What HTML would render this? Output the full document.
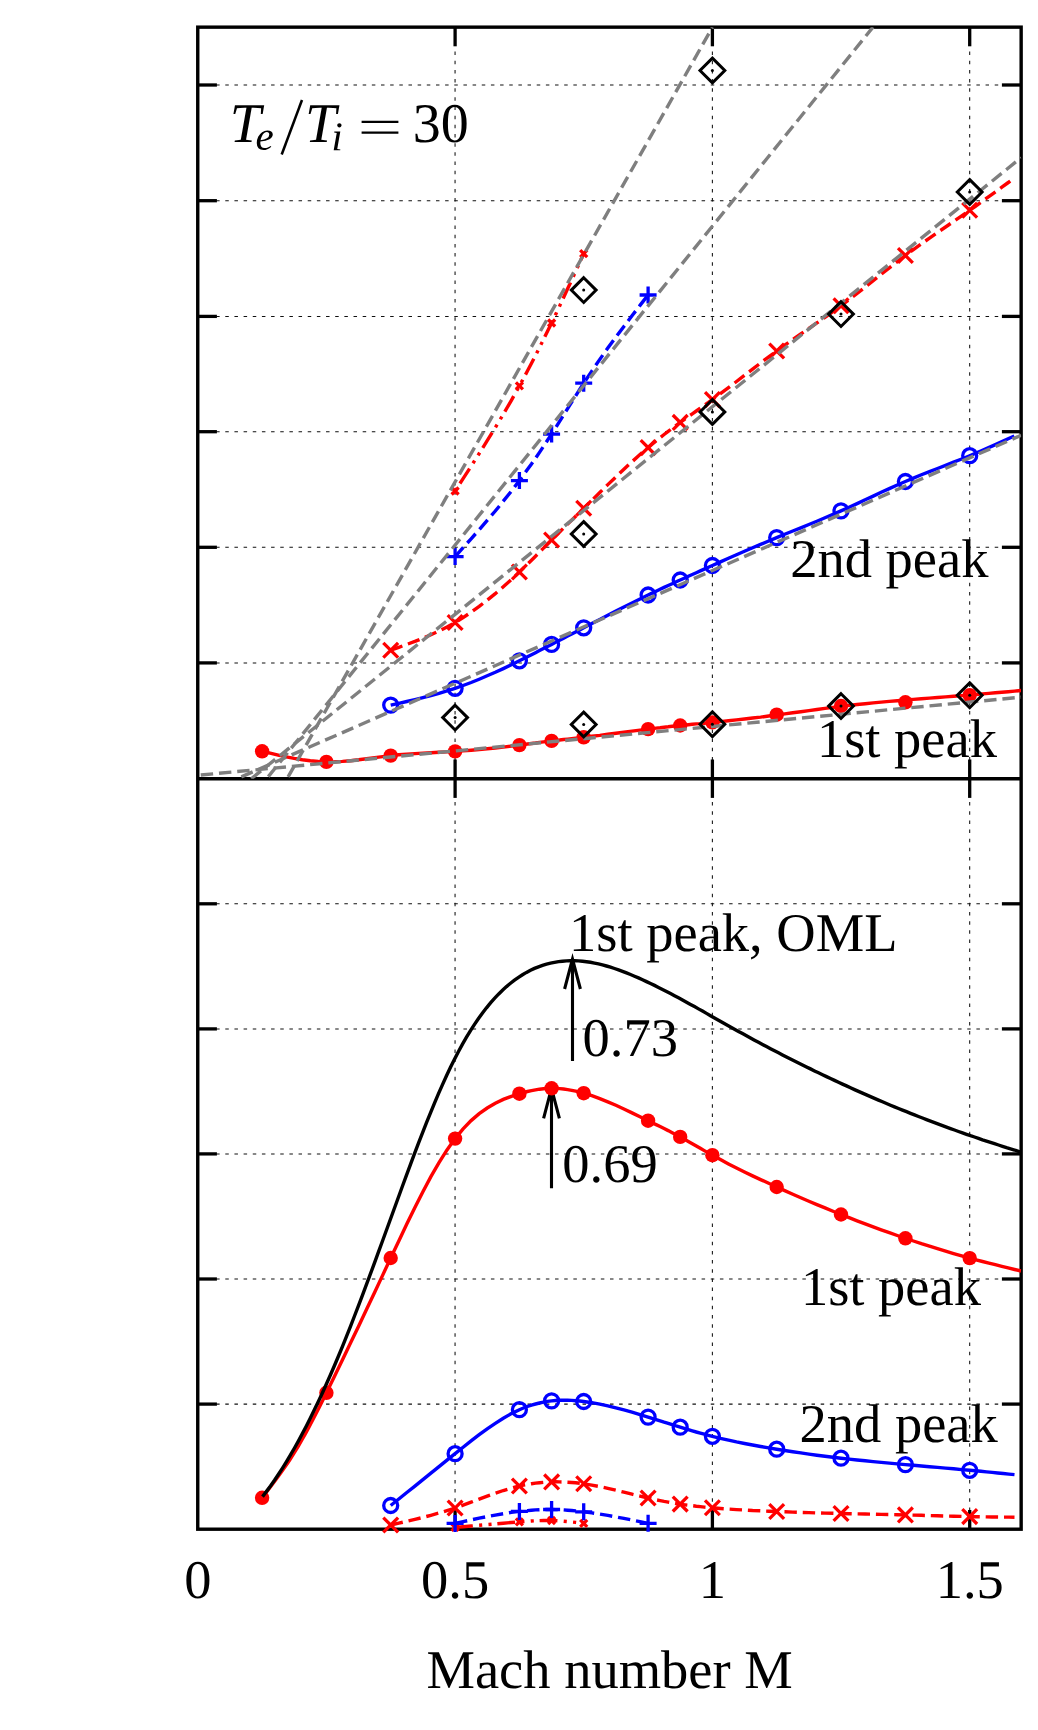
<!DOCTYPE html>
<html><head><meta charset="utf-8"><title>chart</title>
<style>html,body{margin:0;padding:0;background:#fff;}body{width:1038px;height:1730px;overflow:hidden;font-family:"Liberation Serif",serif;}</style>
</head><body>
<svg width="1038" height="1730" viewBox="0 0 1038 1730" style="display:block">
<rect x="0" y="0" width="1038" height="1730" fill="#ffffff"/>
<defs><clipPath id="ct"><rect x="197.75" y="27.15" width="823.4" height="751.5500000000001"/></clipPath><clipPath id="cb"><rect x="197.75" y="778.7" width="823.4" height="754.5"/></clipPath></defs>
<g stroke="#101010" stroke-width="1.05" stroke-dasharray="3.5 5.66" fill="none">
<line x1="197.8" y1="85.00" x2="1021.1" y2="85.00"/>
<line x1="197.8" y1="200.65" x2="1021.1" y2="200.65"/>
<line x1="197.8" y1="316.45" x2="1021.1" y2="316.45"/>
<line x1="197.8" y1="431.70" x2="1021.1" y2="431.70"/>
<line x1="197.8" y1="547.30" x2="1021.1" y2="547.30"/>
<line x1="197.8" y1="662.90" x2="1021.1" y2="662.90"/>
<line x1="197.8" y1="903.80" x2="1021.1" y2="903.80"/>
<line x1="197.8" y1="1028.90" x2="1021.1" y2="1028.90"/>
<line x1="197.8" y1="1153.90" x2="1021.1" y2="1153.90"/>
<line x1="197.8" y1="1279.00" x2="1021.1" y2="1279.00"/>
<line x1="197.8" y1="1404.10" x2="1021.1" y2="1404.10"/>
<line x1="455.06" y1="778.7" x2="455.06" y2="27.1"/>
<line x1="455.06" y1="1529.2" x2="455.06" y2="778.7"/>
<line x1="712.38" y1="778.7" x2="712.38" y2="27.1"/>
<line x1="712.38" y1="1529.2" x2="712.38" y2="778.7"/>
<line x1="969.69" y1="778.7" x2="969.69" y2="27.1"/>
<line x1="969.69" y1="1529.2" x2="969.69" y2="778.7"/>
</g>
<g stroke="#000" stroke-width="3.4" fill="none" stroke-linecap="butt">
<rect x="197.75" y="27.15" width="823.4" height="1502.05"/>
<line x1="197.75" y1="778.7" x2="1021.15" y2="778.7"/>
</g>
<g stroke="#000" stroke-width="3.3" fill="none">
<line x1="197.75" y1="85.0" x2="216.9" y2="85.0"/>
<line x1="1021.15" y1="85.0" x2="1001.9" y2="85.0"/>
<line x1="197.75" y1="200.7" x2="216.9" y2="200.7"/>
<line x1="1021.15" y1="200.7" x2="1001.9" y2="200.7"/>
<line x1="197.75" y1="316.4" x2="216.9" y2="316.4"/>
<line x1="1021.15" y1="316.4" x2="1001.9" y2="316.4"/>
<line x1="197.75" y1="431.7" x2="216.9" y2="431.7"/>
<line x1="1021.15" y1="431.7" x2="1001.9" y2="431.7"/>
<line x1="197.75" y1="547.3" x2="216.9" y2="547.3"/>
<line x1="1021.15" y1="547.3" x2="1001.9" y2="547.3"/>
<line x1="197.75" y1="662.9" x2="216.9" y2="662.9"/>
<line x1="1021.15" y1="662.9" x2="1001.9" y2="662.9"/>
<line x1="197.75" y1="903.8" x2="216.9" y2="903.8"/>
<line x1="1021.15" y1="903.8" x2="1001.9" y2="903.8"/>
<line x1="197.75" y1="1028.9" x2="216.9" y2="1028.9"/>
<line x1="1021.15" y1="1028.9" x2="1001.9" y2="1028.9"/>
<line x1="197.75" y1="1153.9" x2="216.9" y2="1153.9"/>
<line x1="1021.15" y1="1153.9" x2="1001.9" y2="1153.9"/>
<line x1="197.75" y1="1279.0" x2="216.9" y2="1279.0"/>
<line x1="1021.15" y1="1279.0" x2="1001.9" y2="1279.0"/>
<line x1="197.75" y1="1404.1" x2="216.9" y2="1404.1"/>
<line x1="1021.15" y1="1404.1" x2="1001.9" y2="1404.1"/>
<line x1="455.1" y1="27.15" x2="455.1" y2="46.3"/>
<line x1="455.1" y1="759.5" x2="455.1" y2="797.9"/>
<line x1="455.1" y1="1529.2" x2="455.1" y2="1510.0"/>
<line x1="712.4" y1="27.15" x2="712.4" y2="46.3"/>
<line x1="712.4" y1="759.5" x2="712.4" y2="797.9"/>
<line x1="712.4" y1="1529.2" x2="712.4" y2="1510.0"/>
<line x1="969.7" y1="27.15" x2="969.7" y2="46.3"/>
<line x1="969.7" y1="759.5" x2="969.7" y2="797.9"/>
<line x1="969.7" y1="1529.2" x2="969.7" y2="1510.0"/>
</g>
<path d="M572.5,1061.0 L572.5,959.0 M564.6,989.0 L572.5,959.0 L580.4,989.0" stroke="#000" stroke-width="3.1" fill="none" stroke-linejoin="miter" stroke-miterlimit="10"/>
<path d="M551.5,1188.3 L551.5,1088.3 M543.6,1118.3 L551.5,1088.3 L559.4,1118.3" stroke="#000" stroke-width="3.1" fill="none" stroke-linejoin="miter" stroke-miterlimit="10"/>
<g clip-path="url(#ct)" fill="none">
<path d="M455.1,491.0 L463.1,478.6 L471.1,466.2 L479.2,453.5 L487.2,440.7 L495.3,427.6 L503.3,414.2 L511.4,400.3 L519.4,385.9 L523.4,378.5 L527.4,371.0 L531.5,363.3 L535.5,355.5 L539.5,347.5 L543.5,339.5 L547.5,331.3 L551.6,323.0 L555.6,314.6 L559.6,306.1 L563.6,297.5 L567.6,288.8 L571.7,280.1 L575.7,271.3 L579.7,262.5 L583.7,253.7" stroke="#ff0000" stroke-width="3.4" stroke-dasharray="17.8 6.3 3.1 6.3 3.1 5.8" stroke-dashoffset="33.5"/>
<path d="M455.1,556.6 L463.1,547.7 L471.1,538.8 L479.2,529.7 L487.2,520.4 L495.3,511.0 L503.3,501.2 L511.4,491.1 L519.4,480.6 L523.4,475.2 L527.4,469.6 L531.5,464.0 L535.5,458.2 L539.5,452.4 L543.5,446.4 L547.5,440.3 L551.6,434.1 L555.6,427.8 L559.6,421.4 L563.6,415.0 L567.6,408.6 L571.7,402.1 L575.7,395.8 L579.7,389.4 L583.7,383.2 L591.8,371.1 L599.8,359.4 L607.8,348.1 L615.9,337.1 L623.9,326.4 L632.0,315.8 L640.0,305.4 L648.1,295.0" stroke="#0000ff" stroke-width="3.4" stroke-dasharray="12.4 5.9"/>
<path d="M390.7,650.2 L398.8,647.3 L406.8,644.4 L414.9,641.4 L422.9,638.2 L430.9,634.8 L439.0,631.0 L447.0,627.0 L455.1,622.5 L463.1,617.6 L471.1,612.2 L479.2,606.4 L487.2,600.2 L495.3,593.7 L503.3,586.8 L511.4,579.5 L519.4,572.0 L523.4,568.1 L527.4,564.2 L531.5,560.2 L535.5,556.2 L539.5,552.1 L543.5,548.1 L547.5,544.0 L551.6,540.0 L555.6,536.0 L559.6,532.0 L563.6,528.0 L567.6,524.1 L571.7,520.1 L575.7,516.2 L579.7,512.2 L583.7,508.3 L591.8,500.4 L599.8,492.5 L607.8,484.6 L615.9,476.9 L623.9,469.3 L632.0,461.8 L640.0,454.6 L648.1,447.6 L652.1,444.2 L656.1,440.9 L660.1,437.7 L664.1,434.5 L668.2,431.4 L672.2,428.3 L676.2,425.3 L680.2,422.4 L684.2,419.5 L688.3,416.6 L692.3,413.8 L696.3,411.0 L700.3,408.2 L704.3,405.3 L708.4,402.5 L712.4,399.6 L720.4,393.7 L728.5,387.7 L736.5,381.5 L744.5,375.3 L752.6,369.1 L760.6,363.0 L768.7,356.9 L776.7,351.0 L784.7,345.2 L792.8,339.6 L800.8,334.0 L808.9,328.5 L816.9,322.9 L825.0,317.3 L833.0,311.6 L841.0,305.7 L849.1,299.6 L857.1,293.4 L865.2,287.1 L873.2,280.7 L881.2,274.3 L889.3,267.9 L897.3,261.6 L905.4,255.5 L913.4,249.6 L921.4,243.8 L929.5,238.1 L937.5,232.5 L945.6,227.0 L953.6,221.4 L961.7,215.9 L969.7,210.3 L975.1,206.5 L980.5,202.6 L985.9,198.7 L991.3,194.8 L996.8,190.9 L1002.2,186.9 L1007.6,183.0 L1013.0,179.0" stroke="#ff0000" stroke-width="3.4" stroke-dasharray="12.4 5.9"/>
<path d="M390.7,705.1 L398.8,703.3 L406.8,701.5 L414.9,699.6 L422.9,697.6 L430.9,695.5 L439.0,693.3 L447.0,690.9 L455.1,688.3 L463.1,685.5 L471.1,682.5 L479.2,679.2 L487.2,675.8 L495.3,672.3 L503.3,668.6 L511.4,664.7 L519.4,660.8 L523.4,658.8 L527.4,656.8 L531.5,654.7 L535.5,652.7 L539.5,650.6 L543.5,648.5 L547.5,646.5 L551.6,644.4 L555.6,642.3 L559.6,640.3 L563.6,638.2 L567.6,636.1 L571.7,634.0 L575.7,632.0 L579.7,629.9 L583.7,627.8 L591.8,623.6 L599.8,619.4 L607.8,615.3 L615.9,611.1 L623.9,607.0 L632.0,602.9 L640.0,598.9 L648.1,595.0 L652.1,593.1 L656.1,591.2 L660.1,589.3 L664.1,587.4 L668.2,585.5 L672.2,583.7 L676.2,581.8 L680.2,580.0 L684.2,578.2 L688.3,576.3 L692.3,574.5 L696.3,572.7 L700.3,570.9 L704.3,569.1 L708.4,567.3 L712.4,565.5 L720.4,561.9 L728.5,558.3 L736.5,554.8 L744.5,551.3 L752.6,547.8 L760.6,544.4 L768.7,541.0 L776.7,537.6 L784.7,534.3 L792.8,531.0 L800.8,527.8 L808.9,524.5 L816.9,521.2 L825.0,517.8 L833.0,514.4 L841.0,510.9 L849.1,507.3 L857.1,503.6 L865.2,499.8 L873.2,496.1 L881.2,492.3 L889.3,488.6 L897.3,485.0 L905.4,481.5 L913.4,478.1 L921.4,474.8 L929.5,471.6 L937.5,468.5 L945.6,465.4 L953.6,462.2 L961.7,459.0 L969.7,455.7 L975.3,453.4 L980.8,451.0 L986.4,448.5 L992.0,446.1 L997.6,443.6 L1003.1,441.1 L1008.7,438.5 L1014.3,436.0" stroke="#0000ff" stroke-width="3.4"/>
<path d="M262.1,751.3 L270.1,753.2 L278.2,755.1 L286.2,756.8 L294.2,758.4 L302.3,759.7 L310.3,760.8 L318.4,761.5 L326.4,761.9 L334.4,761.8 L342.5,761.4 L350.5,760.7 L358.6,759.8 L366.6,758.7 L374.7,757.6 L382.7,756.6 L390.7,755.6 L398.8,754.8 L406.8,754.1 L414.9,753.6 L422.9,753.1 L430.9,752.7 L439.0,752.3 L447.0,751.9 L455.1,751.4 L463.1,750.9 L471.1,750.2 L479.2,749.5 L487.2,748.8 L495.3,748.0 L503.3,747.1 L511.4,746.1 L519.4,745.1 L523.4,744.6 L527.4,744.0 L531.5,743.5 L535.5,743.0 L539.5,742.4 L543.5,741.9 L547.5,741.4 L551.6,740.9 L555.6,740.4 L559.6,740.0 L563.6,739.5 L567.6,739.1 L571.7,738.6 L575.7,738.2 L579.7,737.8 L583.7,737.3 L591.8,736.3 L599.8,735.4 L607.8,734.3 L615.9,733.3 L623.9,732.2 L632.0,731.1 L640.0,730.1 L648.1,729.1 L652.1,728.6 L656.1,728.1 L660.1,727.7 L664.1,727.2 L668.2,726.8 L672.2,726.3 L676.2,725.9 L680.2,725.5 L684.2,725.1 L688.3,724.7 L692.3,724.3 L696.3,723.9 L700.3,723.6 L704.3,723.2 L708.4,722.8 L712.4,722.4 L720.4,721.6 L728.5,720.8 L736.5,719.9 L744.5,719.0 L752.6,718.0 L760.6,717.1 L768.7,716.0 L776.7,715.0 L784.7,713.9 L792.8,712.8 L800.8,711.7 L808.9,710.6 L816.9,709.5 L825.0,708.4 L833.0,707.4 L841.0,706.4 L849.1,705.4 L857.1,704.5 L865.2,703.7 L873.2,702.9 L881.2,702.1 L889.3,701.4 L897.3,700.7 L905.4,700.0 L913.4,699.4 L921.4,698.7 L929.5,698.1 L937.5,697.5 L945.6,696.9 L953.6,696.3 L961.7,695.6 L969.7,695.0 L976.1,694.5 L982.5,693.9 L988.9,693.4 L995.3,692.8 L1001.8,692.2 L1008.2,691.7 L1014.6,691.1 L1021.0,690.5" stroke="#ff0000" stroke-width="3.4"/>
</g>
<g>
<path d="M451.6,487.5 L458.6,494.5 M451.6,494.5 L458.6,487.5" stroke="#ff0000" stroke-width="3.3" fill="none"/>
<path d="M515.9,382.4 L522.9,389.4 M515.9,389.4 L522.9,382.4" stroke="#ff0000" stroke-width="3.3" fill="none"/>
<path d="M548.1,319.5 L555.1,326.5 M548.1,326.5 L555.1,319.5" stroke="#ff0000" stroke-width="3.3" fill="none"/>
<path d="M580.2,250.2 L587.2,257.2 M580.2,257.2 L587.2,250.2" stroke="#ff0000" stroke-width="3.3" fill="none"/>
<path d="M446.6,556.6 L463.6,556.6 M455.1,548.1 L455.1,565.1" stroke="#0000ff" stroke-width="3.3" fill="none"/>
<path d="M510.9,480.6 L527.9,480.6 M519.4,472.1 L519.4,489.1" stroke="#0000ff" stroke-width="3.3" fill="none"/>
<path d="M543.1,434.1 L560.1,434.1 M551.6,425.6 L551.6,442.6" stroke="#0000ff" stroke-width="3.3" fill="none"/>
<path d="M575.2,383.2 L592.2,383.2 M583.7,374.7 L583.7,391.7" stroke="#0000ff" stroke-width="3.3" fill="none"/>
<path d="M639.6,295.0 L656.6,295.0 M648.1,286.5 L648.1,303.5" stroke="#0000ff" stroke-width="3.3" fill="none"/>
<path d="M383.3,642.8 L398.1,657.6 M383.3,657.6 L398.1,642.8" stroke="#ff0000" stroke-width="3.3" fill="none"/>
<path d="M447.7,615.1 L462.5,629.9 M447.7,629.9 L462.5,615.1" stroke="#ff0000" stroke-width="3.3" fill="none"/>
<path d="M512.0,564.6 L526.8,579.4 M512.0,579.4 L526.8,564.6" stroke="#ff0000" stroke-width="3.3" fill="none"/>
<path d="M544.2,532.6 L559.0,547.4 M544.2,547.4 L559.0,532.6" stroke="#ff0000" stroke-width="3.3" fill="none"/>
<path d="M576.3,500.9 L591.1,515.7 M576.3,515.7 L591.1,500.9" stroke="#ff0000" stroke-width="3.3" fill="none"/>
<path d="M640.7,440.2 L655.5,455.0 M640.7,455.0 L655.5,440.2" stroke="#ff0000" stroke-width="3.3" fill="none"/>
<path d="M672.8,415.0 L687.6,429.8 M672.8,429.8 L687.6,415.0" stroke="#ff0000" stroke-width="3.3" fill="none"/>
<path d="M705.0,392.2 L719.8,407.0 M705.0,407.0 L719.8,392.2" stroke="#ff0000" stroke-width="3.3" fill="none"/>
<path d="M769.3,343.6 L784.1,358.4 M769.3,358.4 L784.1,343.6" stroke="#ff0000" stroke-width="3.3" fill="none"/>
<path d="M833.6,298.3 L848.4,313.1 M833.6,313.1 L848.4,298.3" stroke="#ff0000" stroke-width="3.3" fill="none"/>
<path d="M898.0,248.1 L912.8,262.9 M898.0,262.9 L912.8,248.1" stroke="#ff0000" stroke-width="3.3" fill="none"/>
<path d="M962.3,202.9 L977.1,217.7 M962.3,217.7 L977.1,202.9" stroke="#ff0000" stroke-width="3.3" fill="none"/>
<circle cx="390.7" cy="705.1" r="7.0" fill="none" stroke="#0000ff" stroke-width="3.3"/>
<circle cx="455.1" cy="688.3" r="7.0" fill="none" stroke="#0000ff" stroke-width="3.3"/>
<circle cx="519.4" cy="660.8" r="7.0" fill="none" stroke="#0000ff" stroke-width="3.3"/>
<circle cx="551.6" cy="644.4" r="7.0" fill="none" stroke="#0000ff" stroke-width="3.3"/>
<circle cx="583.7" cy="627.8" r="7.0" fill="none" stroke="#0000ff" stroke-width="3.3"/>
<circle cx="648.1" cy="595.0" r="7.0" fill="none" stroke="#0000ff" stroke-width="3.3"/>
<circle cx="680.2" cy="580.0" r="7.0" fill="none" stroke="#0000ff" stroke-width="3.3"/>
<circle cx="712.4" cy="565.5" r="7.0" fill="none" stroke="#0000ff" stroke-width="3.3"/>
<circle cx="776.7" cy="537.6" r="7.0" fill="none" stroke="#0000ff" stroke-width="3.3"/>
<circle cx="841.0" cy="510.9" r="7.0" fill="none" stroke="#0000ff" stroke-width="3.3"/>
<circle cx="905.4" cy="481.5" r="7.0" fill="none" stroke="#0000ff" stroke-width="3.3"/>
<circle cx="969.7" cy="455.7" r="7.0" fill="none" stroke="#0000ff" stroke-width="3.3"/>
<circle cx="262.1" cy="751.3" r="7.2" fill="#ff0000"/>
<circle cx="326.4" cy="761.9" r="7.2" fill="#ff0000"/>
<circle cx="390.7" cy="755.6" r="7.2" fill="#ff0000"/>
<circle cx="455.1" cy="751.4" r="7.2" fill="#ff0000"/>
<circle cx="519.4" cy="745.1" r="7.2" fill="#ff0000"/>
<circle cx="551.6" cy="740.9" r="7.2" fill="#ff0000"/>
<circle cx="583.7" cy="737.3" r="7.2" fill="#ff0000"/>
<circle cx="648.1" cy="729.1" r="7.2" fill="#ff0000"/>
<circle cx="680.2" cy="725.5" r="7.2" fill="#ff0000"/>
<circle cx="712.4" cy="722.4" r="7.2" fill="#ff0000"/>
<circle cx="776.7" cy="714.7" r="7.2" fill="#ff0000"/>
<circle cx="841.0" cy="706.0" r="7.2" fill="#ff0000"/>
<circle cx="905.4" cy="702.3" r="7.2" fill="#ff0000"/>
<circle cx="969.7" cy="695.1" r="7.2" fill="#ff0000"/>
</g>
<g clip-path="url(#ct)" stroke="#7f7f7f" stroke-width="3.4" stroke-dasharray="12.4 5.9" fill="none">
<line x1="197.8" y1="775.3" x2="1021.1" y2="697.2" stroke-dashoffset="15.3"/>
<line x1="237.2" y1="778.7" x2="1021.1" y2="435.3" stroke-dashoffset="13.8"/>
<line x1="251.3" y1="778.7" x2="1021.1" y2="157.7" stroke-dashoffset="0.0"/>
<line x1="266.6" y1="778.7" x2="873.0" y2="27.1" stroke-dashoffset="15.6"/>
<line x1="287.1" y1="778.7" x2="712.5" y2="27.1" stroke-dashoffset="16.3"/>
</g>
<g>
<path d="M455.1,705.2 L467.5,717.6 L455.1,730.0 L442.7,717.6 Z" stroke="#000" stroke-width="3.0" fill="none" stroke-linejoin="miter"/><circle cx="455.1" cy="717.6" r="1.5" fill="#000"/>
<path d="M583.7,712.1 L596.1,724.5 L583.7,736.9 L571.3,724.5 Z" stroke="#000" stroke-width="3.0" fill="none" stroke-linejoin="miter"/><circle cx="583.7" cy="724.5" r="1.5" fill="#000"/>
<path d="M712.4,711.8 L724.8,724.2 L712.4,736.6 L700.0,724.2 Z" stroke="#000" stroke-width="3.0" fill="none" stroke-linejoin="miter"/><circle cx="712.4" cy="724.2" r="1.5" fill="#000"/>
<path d="M841.0,693.7 L853.4,706.1 L841.0,718.5 L828.6,706.1 Z" stroke="#000" stroke-width="3.0" fill="none" stroke-linejoin="miter"/><circle cx="841.0" cy="706.1" r="1.5" fill="#000"/>
<path d="M969.7,682.9 L982.1,695.3 L969.7,707.7 L957.3,695.3 Z" stroke="#000" stroke-width="3.0" fill="none" stroke-linejoin="miter"/><circle cx="969.7" cy="695.3" r="1.5" fill="#000"/>
<path d="M583.7,521.6 L596.1,534.0 L583.7,546.4 L571.3,534.0 Z" stroke="#000" stroke-width="3.0" fill="none" stroke-linejoin="miter"/><circle cx="583.7" cy="534.0" r="1.5" fill="#000"/>
<path d="M712.4,399.5 L724.8,411.9 L712.4,424.3 L700.0,411.9 Z" stroke="#000" stroke-width="3.0" fill="none" stroke-linejoin="miter"/><circle cx="712.4" cy="411.9" r="1.5" fill="#000"/>
<path d="M841.0,301.7 L853.4,314.1 L841.0,326.5 L828.6,314.1 Z" stroke="#000" stroke-width="3.0" fill="none" stroke-linejoin="miter"/><circle cx="841.0" cy="314.1" r="1.5" fill="#000"/>
<path d="M969.7,179.6 L982.1,192.0 L969.7,204.4 L957.3,192.0 Z" stroke="#000" stroke-width="3.0" fill="none" stroke-linejoin="miter"/><circle cx="969.7" cy="192.0" r="1.5" fill="#000"/>
<path d="M583.7,277.7 L596.1,290.1 L583.7,302.5 L571.3,290.1 Z" stroke="#000" stroke-width="3.0" fill="none" stroke-linejoin="miter"/><circle cx="583.7" cy="290.1" r="1.5" fill="#000"/>
<path d="M712.4,58.1 L724.8,70.5 L712.4,82.9 L700.0,70.5 Z" stroke="#000" stroke-width="3.0" fill="none" stroke-linejoin="miter"/><circle cx="712.4" cy="70.5" r="1.5" fill="#000"/>
</g>
<g clip-path="url(#cb)" fill="none">
<path d="M455.1,1527.4 L463.1,1526.7 L471.1,1526.0 L479.2,1525.3 L487.2,1524.6 L495.3,1523.9 L503.3,1523.2 L511.4,1522.5 L519.4,1521.9 L523.4,1521.6 L527.4,1521.3 L531.5,1521.0 L535.5,1520.8 L539.5,1520.6 L543.5,1520.5 L547.5,1520.5 L551.6,1520.5 L555.6,1520.6 L559.6,1520.9 L563.6,1521.2 L567.6,1521.6 L571.7,1522.0 L575.7,1522.4 L579.7,1522.9 L583.7,1523.4" stroke="#ff0000" stroke-width="3.4" stroke-dasharray="17.8 6.3 3.1 6.3 3.1 5.8"/>
<path d="M455.1,1523.4 L463.1,1521.6 L471.1,1519.9 L479.2,1518.2 L487.2,1516.6 L495.3,1515.1 L503.3,1513.7 L511.4,1512.4 L519.4,1511.4 L523.4,1511.0 L527.4,1510.6 L531.5,1510.2 L535.5,1509.9 L539.5,1509.7 L543.5,1509.6 L547.5,1509.5 L551.6,1509.5 L555.6,1509.6 L559.6,1509.7 L563.6,1509.9 L567.6,1510.2 L571.7,1510.5 L575.7,1510.9 L579.7,1511.3 L583.7,1511.8 L591.8,1512.9 L599.8,1514.1 L607.8,1515.4 L615.9,1516.9 L623.9,1518.4 L632.0,1520.0 L640.0,1521.6 L648.1,1523.3" stroke="#0000ff" stroke-width="3.4" stroke-dasharray="12.4 5.9"/>
<path d="M390.7,1525.0 L398.8,1523.2 L406.8,1521.3 L414.9,1519.4 L422.9,1517.4 L430.9,1515.3 L439.0,1513.0 L447.0,1510.6 L455.1,1508.0 L463.1,1505.2 L471.1,1502.2 L479.2,1499.1 L487.2,1496.1 L495.3,1493.2 L503.3,1490.5 L511.4,1488.1 L519.4,1486.0 L523.4,1485.1 L527.4,1484.4 L531.5,1483.7 L535.5,1483.1 L539.5,1482.7 L543.5,1482.3 L547.5,1482.1 L551.6,1481.9 L555.6,1481.8 L559.6,1481.9 L563.6,1482.0 L567.6,1482.2 L571.7,1482.5 L575.7,1482.8 L579.7,1483.3 L583.7,1483.8 L591.8,1485.1 L599.8,1486.6 L607.8,1488.3 L615.9,1490.2 L623.9,1492.2 L632.0,1494.2 L640.0,1496.1 L648.1,1498.0 L652.1,1498.9 L656.1,1499.8 L660.1,1500.6 L664.1,1501.4 L668.2,1502.1 L672.2,1502.8 L676.2,1503.5 L680.2,1504.1 L684.2,1504.7 L688.3,1505.2 L692.3,1505.7 L696.3,1506.2 L700.3,1506.6 L704.3,1507.1 L708.4,1507.4 L712.4,1507.8 L720.4,1508.5 L728.5,1509.1 L736.5,1509.6 L744.5,1510.0 L752.6,1510.5 L760.6,1510.8 L768.7,1511.2 L776.7,1511.5 L784.7,1511.8 L792.8,1512.1 L800.8,1512.4 L808.9,1512.6 L816.9,1512.9 L825.0,1513.1 L833.0,1513.3 L841.0,1513.5 L849.1,1513.7 L857.1,1513.9 L865.2,1514.0 L873.2,1514.2 L881.2,1514.4 L889.3,1514.5 L897.3,1514.7 L905.4,1514.9 L913.4,1515.1 L921.4,1515.3 L929.5,1515.6 L937.5,1515.8 L945.6,1516.0 L953.6,1516.2 L961.7,1516.4 L969.7,1516.6 L975.3,1516.7 L980.9,1516.8 L986.5,1516.9 L992.1,1517.0 L997.7,1517.0 L1003.3,1517.1 L1008.9,1517.1 L1014.5,1517.2" stroke="#ff0000" stroke-width="3.4" stroke-dasharray="12.4 5.9"/>
<path d="M390.7,1505.5 L398.8,1499.0 L406.8,1492.5 L414.9,1486.1 L422.9,1479.6 L430.9,1473.1 L439.0,1466.6 L447.0,1460.2 L455.1,1453.7 L463.1,1447.2 L471.1,1440.9 L479.2,1434.7 L487.2,1428.8 L495.3,1423.3 L503.3,1418.2 L511.4,1413.6 L519.4,1409.7 L523.4,1408.0 L527.4,1406.5 L531.5,1405.1 L535.5,1404.0 L539.5,1403.0 L543.5,1402.1 L547.5,1401.4 L551.6,1400.9 L555.6,1400.5 L559.6,1400.3 L563.6,1400.2 L567.6,1400.2 L571.7,1400.4 L575.7,1400.7 L579.7,1401.0 L583.7,1401.5 L591.8,1402.7 L599.8,1404.1 L607.8,1405.8 L615.9,1407.8 L623.9,1409.9 L632.0,1412.2 L640.0,1414.6 L648.1,1417.1 L652.1,1418.4 L656.1,1419.6 L660.1,1420.9 L664.1,1422.2 L668.2,1423.4 L672.2,1424.7 L676.2,1426.0 L680.2,1427.2 L684.2,1428.4 L688.3,1429.6 L692.3,1430.8 L696.3,1432.0 L700.3,1433.1 L704.3,1434.2 L708.4,1435.3 L712.4,1436.3 L720.4,1438.3 L728.5,1440.1 L736.5,1441.9 L744.5,1443.5 L752.6,1445.0 L760.6,1446.5 L768.7,1447.9 L776.7,1449.2 L784.7,1450.5 L792.8,1451.7 L800.8,1452.9 L808.9,1454.1 L816.9,1455.2 L825.0,1456.2 L833.0,1457.2 L841.0,1458.2 L849.1,1459.1 L857.1,1460.0 L865.2,1460.8 L873.2,1461.6 L881.2,1462.4 L889.3,1463.1 L897.3,1463.9 L905.4,1464.6 L913.4,1465.3 L921.4,1466.0 L929.5,1466.7 L937.5,1467.4 L945.6,1468.1 L953.6,1468.8 L961.7,1469.6 L969.7,1470.3 L975.3,1470.8 L980.9,1471.3 L986.5,1471.9 L992.1,1472.4 L997.7,1473.0 L1003.3,1473.5 L1008.9,1474.1 L1014.5,1474.6" stroke="#0000ff" stroke-width="3.4"/>
<path d="M262.1,1497.8 L266.6,1491.9 L271.1,1486.0 L275.6,1480.0 L280.1,1473.8 L284.7,1467.4 L289.2,1460.7 L293.7,1453.7 L298.2,1446.3 L301.7,1440.2 L305.3,1433.9 L308.8,1427.4 L312.3,1420.8 L315.8,1413.9 L319.4,1407.0 L322.9,1399.9 L326.4,1392.8 L334.4,1376.4 L342.5,1359.8 L350.5,1343.1 L358.6,1326.2 L366.6,1309.3 L374.7,1292.2 L382.7,1275.1 L390.7,1258.0 L398.8,1240.9 L406.8,1224.0 L414.9,1207.6 L422.9,1191.7 L430.9,1176.7 L439.0,1162.7 L447.0,1149.9 L455.1,1138.6 L463.1,1128.9 L471.1,1120.6 L479.2,1113.7 L487.2,1108.0 L495.3,1103.3 L503.3,1099.4 L511.4,1096.3 L519.4,1093.7 L523.4,1092.6 L527.4,1091.5 L531.5,1090.6 L535.5,1089.9 L539.5,1089.2 L543.5,1088.7 L547.5,1088.4 L551.6,1088.3 L555.6,1088.4 L559.6,1088.6 L563.6,1089.0 L567.6,1089.6 L571.7,1090.3 L575.7,1091.1 L579.7,1092.1 L583.7,1093.2 L591.8,1095.7 L599.8,1098.6 L607.8,1101.9 L615.9,1105.3 L623.9,1109.0 L632.0,1112.9 L640.0,1116.8 L648.1,1120.7 L652.1,1122.7 L656.1,1124.6 L660.1,1126.6 L664.1,1128.6 L668.2,1130.6 L672.2,1132.7 L676.2,1134.7 L680.2,1136.9 L684.2,1139.1 L688.3,1141.4 L692.3,1143.7 L696.3,1146.0 L700.3,1148.3 L704.3,1150.6 L708.4,1152.9 L712.4,1155.2 L720.4,1159.6 L728.5,1163.9 L736.5,1168.0 L744.5,1172.0 L752.6,1175.9 L760.6,1179.6 L768.7,1183.3 L776.7,1187.0 L784.7,1190.6 L792.8,1194.2 L800.8,1197.7 L808.9,1201.2 L816.9,1204.6 L825.0,1207.9 L833.0,1211.3 L841.0,1214.5 L849.1,1217.7 L857.1,1220.8 L865.2,1223.9 L873.2,1226.9 L881.2,1229.8 L889.3,1232.7 L897.3,1235.5 L905.4,1238.3 L913.4,1241.0 L921.4,1243.7 L929.5,1246.2 L937.5,1248.7 L945.6,1251.2 L953.6,1253.6 L961.7,1255.9 L969.7,1258.1 L976.1,1259.8 L982.5,1261.5 L988.9,1263.1 L995.3,1264.7 L1001.8,1266.3 L1008.2,1267.9 L1014.6,1269.5 L1021.0,1271.0" stroke="#ff0000" stroke-width="3.4"/>
</g>
<g>
<path d="M451.6,1523.9 L458.6,1530.9 M451.6,1530.9 L458.6,1523.9" stroke="#ff0000" stroke-width="3.3" fill="none"/>
<path d="M515.9,1518.4 L522.9,1525.4 M515.9,1525.4 L522.9,1518.4" stroke="#ff0000" stroke-width="3.3" fill="none"/>
<path d="M548.1,1517.0 L555.1,1524.0 M548.1,1524.0 L555.1,1517.0" stroke="#ff0000" stroke-width="3.3" fill="none"/>
<path d="M580.2,1519.9 L587.2,1526.9 M580.2,1526.9 L587.2,1519.9" stroke="#ff0000" stroke-width="3.3" fill="none"/>
<path d="M446.6,1523.4 L463.6,1523.4 M455.1,1514.9 L455.1,1531.9" stroke="#0000ff" stroke-width="3.3" fill="none"/>
<path d="M510.9,1511.4 L527.9,1511.4 M519.4,1502.9 L519.4,1519.9" stroke="#0000ff" stroke-width="3.3" fill="none"/>
<path d="M543.1,1509.5 L560.1,1509.5 M551.6,1501.0 L551.6,1518.0" stroke="#0000ff" stroke-width="3.3" fill="none"/>
<path d="M575.2,1511.8 L592.2,1511.8 M583.7,1503.3 L583.7,1520.3" stroke="#0000ff" stroke-width="3.3" fill="none"/>
<path d="M639.6,1523.3 L656.6,1523.3 M648.1,1514.8 L648.1,1531.8" stroke="#0000ff" stroke-width="3.3" fill="none"/>
<path d="M383.3,1517.6 L398.1,1532.4 M383.3,1532.4 L398.1,1517.6" stroke="#ff0000" stroke-width="3.3" fill="none"/>
<path d="M447.7,1500.6 L462.5,1515.4 M447.7,1515.4 L462.5,1500.6" stroke="#ff0000" stroke-width="3.3" fill="none"/>
<path d="M512.0,1478.6 L526.8,1493.4 M512.0,1493.4 L526.8,1478.6" stroke="#ff0000" stroke-width="3.3" fill="none"/>
<path d="M544.2,1474.5 L559.0,1489.3 M544.2,1489.3 L559.0,1474.5" stroke="#ff0000" stroke-width="3.3" fill="none"/>
<path d="M576.3,1476.4 L591.1,1491.2 M576.3,1491.2 L591.1,1476.4" stroke="#ff0000" stroke-width="3.3" fill="none"/>
<path d="M640.7,1490.6 L655.5,1505.4 M640.7,1505.4 L655.5,1490.6" stroke="#ff0000" stroke-width="3.3" fill="none"/>
<path d="M672.8,1496.7 L687.6,1511.5 M672.8,1511.5 L687.6,1496.7" stroke="#ff0000" stroke-width="3.3" fill="none"/>
<path d="M705.0,1500.4 L719.8,1515.2 M705.0,1515.2 L719.8,1500.4" stroke="#ff0000" stroke-width="3.3" fill="none"/>
<path d="M769.3,1504.1 L784.1,1518.9 M769.3,1518.9 L784.1,1504.1" stroke="#ff0000" stroke-width="3.3" fill="none"/>
<path d="M833.6,1506.1 L848.4,1520.9 M833.6,1520.9 L848.4,1506.1" stroke="#ff0000" stroke-width="3.3" fill="none"/>
<path d="M898.0,1507.5 L912.8,1522.3 M898.0,1522.3 L912.8,1507.5" stroke="#ff0000" stroke-width="3.3" fill="none"/>
<path d="M962.3,1509.2 L977.1,1524.0 M962.3,1524.0 L977.1,1509.2" stroke="#ff0000" stroke-width="3.3" fill="none"/>
<circle cx="390.7" cy="1505.5" r="7.0" fill="none" stroke="#0000ff" stroke-width="3.3"/>
<circle cx="455.1" cy="1453.7" r="7.0" fill="none" stroke="#0000ff" stroke-width="3.3"/>
<circle cx="519.4" cy="1409.7" r="7.0" fill="none" stroke="#0000ff" stroke-width="3.3"/>
<circle cx="551.6" cy="1400.9" r="7.0" fill="none" stroke="#0000ff" stroke-width="3.3"/>
<circle cx="583.7" cy="1401.5" r="7.0" fill="none" stroke="#0000ff" stroke-width="3.3"/>
<circle cx="648.1" cy="1417.1" r="7.0" fill="none" stroke="#0000ff" stroke-width="3.3"/>
<circle cx="680.2" cy="1427.2" r="7.0" fill="none" stroke="#0000ff" stroke-width="3.3"/>
<circle cx="712.4" cy="1436.3" r="7.0" fill="none" stroke="#0000ff" stroke-width="3.3"/>
<circle cx="776.7" cy="1449.2" r="7.0" fill="none" stroke="#0000ff" stroke-width="3.3"/>
<circle cx="841.0" cy="1458.2" r="7.0" fill="none" stroke="#0000ff" stroke-width="3.3"/>
<circle cx="905.4" cy="1464.6" r="7.0" fill="none" stroke="#0000ff" stroke-width="3.3"/>
<circle cx="969.7" cy="1470.3" r="7.0" fill="none" stroke="#0000ff" stroke-width="3.3"/>
<circle cx="262.1" cy="1497.8" r="7.2" fill="#ff0000"/>
<circle cx="326.4" cy="1392.8" r="7.2" fill="#ff0000"/>
<circle cx="390.7" cy="1258.0" r="7.2" fill="#ff0000"/>
<circle cx="455.1" cy="1138.6" r="7.2" fill="#ff0000"/>
<circle cx="519.4" cy="1093.7" r="7.2" fill="#ff0000"/>
<circle cx="551.6" cy="1088.3" r="7.2" fill="#ff0000"/>
<circle cx="583.7" cy="1093.2" r="7.2" fill="#ff0000"/>
<circle cx="648.1" cy="1120.7" r="7.2" fill="#ff0000"/>
<circle cx="680.2" cy="1136.9" r="7.2" fill="#ff0000"/>
<circle cx="712.4" cy="1155.2" r="7.2" fill="#ff0000"/>
<circle cx="776.7" cy="1187.0" r="7.2" fill="#ff0000"/>
<circle cx="841.0" cy="1214.5" r="7.2" fill="#ff0000"/>
<circle cx="905.4" cy="1238.3" r="7.2" fill="#ff0000"/>
<circle cx="969.7" cy="1258.1" r="7.2" fill="#ff0000"/>
</g>
<path clip-path="url(#cb)" d="M262.5,1496.6 L266.5,1491.4 L270.5,1486.0 L274.5,1480.3 L278.5,1474.3 L282.5,1468.1 L286.5,1461.6 L290.5,1454.9 L294.5,1448.0 L298.5,1440.8 L302.5,1433.3 L306.5,1425.7 L310.5,1417.8 L314.5,1409.6 L318.5,1401.3 L322.5,1392.7 L326.5,1383.8 L330.5,1374.8 L334.5,1365.5 L338.5,1356.0 L342.5,1346.3 L346.5,1336.4 L350.5,1326.3 L354.5,1316.0 L358.5,1305.6 L362.5,1295.1 L366.5,1284.4 L370.5,1273.7 L374.5,1262.8 L378.5,1251.9 L382.5,1241.0 L386.5,1230.0 L390.5,1219.0 L394.5,1208.0 L398.5,1197.0 L402.5,1186.0 L406.5,1175.2 L410.5,1164.4 L414.5,1153.7 L418.5,1143.2 L422.5,1132.9 L426.5,1122.7 L430.5,1112.8 L434.5,1103.1 L438.5,1093.7 L442.5,1084.6 L446.5,1075.8 L450.5,1067.3 L454.5,1059.2 L458.5,1051.5 L462.5,1044.1 L466.5,1037.2 L470.5,1030.6 L474.5,1024.4 L478.5,1018.5 L482.5,1013.0 L486.5,1007.8 L490.5,1002.9 L494.5,998.4 L498.5,994.2 L502.5,990.2 L506.5,986.6 L510.5,983.2 L514.5,980.1 L518.5,977.3 L522.5,974.7 L526.5,972.4 L530.5,970.3 L534.5,968.4 L538.5,966.8 L542.5,965.4 L546.5,964.2 L550.5,963.1 L554.5,962.3 L558.5,961.6 L562.5,961.2 L566.5,960.9 L570.5,960.7 L574.5,960.8 L578.5,960.9 L582.5,961.3 L586.5,961.7 L590.5,962.3 L594.5,963.1 L598.5,963.9 L602.5,964.9 L606.5,966.0 L610.5,967.2 L614.5,968.5 L618.5,969.9 L622.5,971.3 L626.5,972.9 L630.5,974.5 L634.5,976.2 L638.5,977.9 L642.5,979.7 L646.5,981.6 L650.5,983.5 L654.5,985.4 L658.5,987.4 L662.5,989.4 L666.5,991.5 L670.5,993.6 L674.5,995.7 L678.5,997.8 L682.5,1000.0 L686.5,1002.2 L690.5,1004.4 L694.5,1006.6 L698.5,1008.9 L702.5,1011.1 L706.5,1013.4 L710.5,1015.7 L714.5,1017.9 L718.5,1020.2 L722.5,1022.5 L726.5,1024.7 L730.5,1027.0 L734.5,1029.2 L738.5,1031.4 L742.5,1033.6 L746.5,1035.8 L750.5,1038.0 L754.5,1040.2 L758.5,1042.3 L762.5,1044.5 L766.5,1046.6 L770.5,1048.7 L774.5,1050.8 L778.5,1052.8 L782.5,1054.9 L786.5,1057.0 L790.5,1059.0 L794.5,1061.0 L798.5,1063.0 L802.5,1065.0 L806.5,1067.0 L810.5,1068.9 L814.5,1070.9 L818.5,1072.8 L822.5,1074.7 L826.5,1076.6 L830.5,1078.5 L834.5,1080.4 L838.5,1082.3 L842.5,1084.1 L846.5,1085.9 L850.5,1087.8 L854.5,1089.6 L858.5,1091.4 L862.5,1093.1 L866.5,1094.9 L870.5,1096.6 L874.5,1098.4 L878.5,1100.1 L882.5,1101.8 L886.5,1103.5 L890.5,1105.2 L894.5,1106.8 L898.5,1108.5 L902.5,1110.1 L906.5,1111.7 L910.5,1113.3 L914.5,1114.9 L918.5,1116.5 L922.5,1118.0 L926.5,1119.6 L930.5,1121.1 L934.5,1122.6 L938.5,1124.1 L942.5,1125.6 L946.5,1127.1 L950.5,1128.6 L954.5,1130.0 L958.5,1131.5 L962.5,1132.9 L966.5,1134.3 L970.5,1135.7 L974.5,1137.0 L978.5,1138.4 L982.5,1139.8 L986.5,1141.1 L990.5,1142.4 L994.5,1143.7 L998.5,1145.0 L1002.5,1146.3 L1006.5,1147.6 L1010.5,1148.8 L1014.5,1150.0 L1018.5,1151.3 L1021.0,1152.0" stroke="#000" stroke-width="3.4" fill="none"/>
<g font-family="'Liberation Serif', serif" font-size="54.5" fill="#000" text-rendering="geometricPrecision">
<text x="197.8" y="1597.5" text-anchor="middle">0</text>
<text x="455.1" y="1597.5" text-anchor="middle">0.5</text>
<text x="712.4" y="1597.5" text-anchor="middle">1</text>
<text x="969.7" y="1597.5" text-anchor="middle">1.5</text>
<text x="609.6" y="1687.7" text-anchor="middle">Mach number M</text>
<text x="988.5" y="576.6" text-anchor="end">2nd peak</text>
<text x="997.0" y="757.0" text-anchor="end">1st peak</text>
<text x="569.0" y="950.7">1st peak, OML</text>
<text x="582.5" y="1055.9">0.73</text>
<text x="562.3" y="1182.2">0.69</text>
<text x="981.0" y="1305.3" text-anchor="end">1st peak</text>
<text x="997.8" y="1441.5" text-anchor="end">2nd peak</text>
<text x="229.8" y="141.5" font-style="italic" font-size="56">T</text>
<path d="M863 760Q863 624 695.0 528.0Q527 432 244 413L240 340Q240 213 293.5 148.5Q347 84 452 84Q542 84 618.0 114.5Q694 145 760 184L789 142Q697 64 594.5 22.0Q492 -20 400 -20Q238 -20 150.5 70.5Q63 161 63 330Q63 497 133.5 641.5Q204 786 329.0 875.5Q454 965 591 965Q714 965 788.5 908.5Q863 852 863 760ZM252 476Q450 491 569.0 569.0Q688 647 688 760Q688 816 657.5 852.0Q627 888 569 888Q499 888 433.0 831.0Q367 774 319.0 678.0Q271 582 252 476Z" transform="translate(255.5,149.7) scale(0.02002,-0.02002)" fill="#000"/>
<text x="305.0" y="141.5" font-style="italic" font-size="56">T</text>
<path d="M292 70 449 45 441 0H114L267 870L138 895L146 940H445ZM507 1247Q507 1203 475.0 1171.0Q443 1139 398 1139Q354 1139 322.0 1171.0Q290 1203 290 1247Q290 1292 322.0 1324.0Q354 1356 398 1356Q443 1356 475.0 1324.0Q507 1292 507 1247Z" transform="translate(331.4,150.3) scale(0.02002,-0.02002)" fill="#000"/>
<text x="412.7" y="141.5" font-size="56">30</text>
</g>
<line x1="281.7" y1="154.5" x2="302.0" y2="100.0" stroke="#000" stroke-width="2.5"/>
<path d="M361.6,121.9 H398.4 M361.6,132.7 H398.4" stroke="#000" stroke-width="2.2" fill="none"/>
</svg>
</body></html>
